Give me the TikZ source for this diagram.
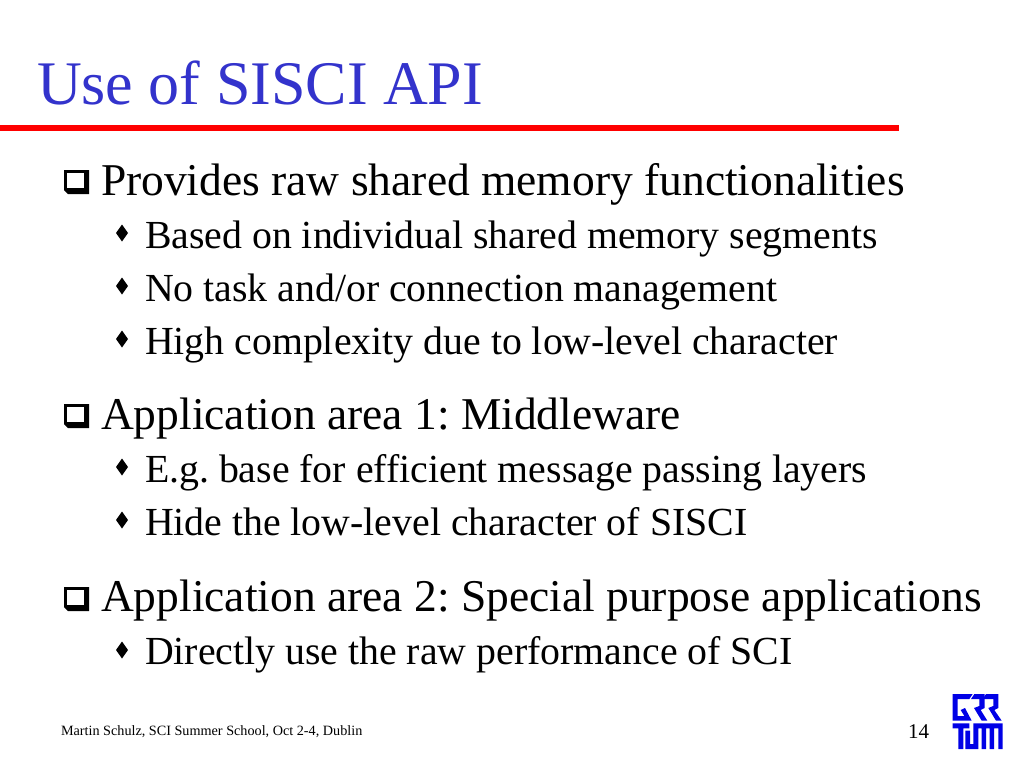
\documentclass[tikz,border=0pt]{standalone}
\usepackage{fontspec}
\setmainfont{Liberation Serif}
\definecolor{titleblue}{RGB}{51,51,204}
\definecolor{rulered}{RGB}{255,0,0}
\definecolor{logoblue}{RGB}{0,0,230}
\tikzset{
  x=1pt,y=-1pt,
  txt/.style={anchor=base west,inner sep=0pt,outer sep=0pt,text=black},
  titletxt/.style={txt,text=titleblue,font=\fontsize{62}{62}\selectfont\frenchspacing},
  mainitem/.style={txt,font=\fontsize{45.5}{45.5}\selectfont\frenchspacing},
  subitem/.style={txt,font=\fontsize{39.8}{39.8}\selectfont\frenchspacing},
  foot/.style={txt,font=\fontsize{14.2}{14.2}\selectfont\frenchspacing},
  pagenum/.style={txt,font=\fontsize{21}{21}\selectfont},
  logo/.style={fill=logoblue,draw=none}
}
\newcommand{\qbullet}[2]{%
  \begin{scope}[shift={(#1,#2)}]
    \fill[black] (0,0) -- (25,0) -- (25,24) -- (4,24) -- (0,20) -- cycle;
    \fill[white] (3,3) -- (20,3) -- (20,18) -- (3,18) -- cycle;
  \end{scope}
}
\newcommand{\dbullet}[2]{%
  \fill[black] (#1,#2-8.5) -- (#1+6,#2) -- (#1,#2+8.5) -- (#1-6,#2) -- cycle;
}
\begin{document}
\begin{tikzpicture}
\useasboundingbox (0,0) rectangle (1024,768);
\fill[white] (0,0) rectangle (1024,768);
\node[titletxt] (title) at (37,104) {Use of SISCI API};
\fill[rulered] (0,125) rectangle (899,131);

\qbullet{64}{170}
\node[mainitem] (m1) at (101,195) {Provides raw shared memory functionalities};
\dbullet{122}{233}
\node[subitem] (s1) at (145,248) {Based on individual shared memory segments};
\dbullet{122}{286}
\node[subitem] (s2) at (145,301) {No task and/or connection management};
\dbullet{122}{339}
\node[subitem] (s3) at (145,354) {High complexity due to low-level character};

\qbullet{64}{404}
\node[mainitem] (m2) at (101,429) {Application area 1: Middleware};
\dbullet{122}{467}
\node[subitem] (s4) at (145,482) {E.g. base for efficient message passing layers};
\dbullet{122}{520}
\node[subitem] (s5) at (145,535) {Hide the low-level character of SISCI};

\qbullet{64}{587}
\node[mainitem] (m3) at (101,611) {Application area 2: Special purpose applications};
\dbullet{122}{650}
\node[subitem] (s6) at (145,664) {Directly use the raw performance of SCI};

\node[foot] (f) at (61,735) {Martin Schulz, SCI Summer School, Oct 2-4, Dublin};
\node[pagenum] (p) at (908,738) {14};

\begin{scope}[shift={(930,680)},x=0.3333pt,y=-0.3333pt]
% G
\fill[logo] (68,42) -- (128,42) -- (118,57) -- (83,57) -- (83,108) -- (103,108) -- (92,90) -- (105,84) -- (125,122) -- (68,122) -- cycle;
% R
\fill[logo] (133,42) -- (164,42) -- (164,84) -- (152,90) -- (172,122) -- (155,122) -- (132,84) -- (148,78) -- (148,57) -- (123,57) -- cycle;
% R
\fill[logo] (168,42) -- (205,42) -- (205,84) -- (193,90) -- (215,122) -- (198,122) -- (175,84) -- (190,78) -- (190,57) -- (158,57) -- cycle;
% T
\fill[logo] (68,130) -- (118,130) -- (118,145) -- (100,145) -- (100,207) -- (85,207) -- (85,145) -- (68,145) -- cycle;
% U and M
\fill[logo] (106,152) -- (120,152) -- (120,192) -- (130,192) -- (130,130) -- (218,130) -- (218,207) -- (205,207) -- (205,145) -- (192,145) -- (192,207) -- (179,207) -- (179,145) -- (168,145) -- (168,207) -- (155,207) -- (155,145) -- (145,145) -- (145,207) -- (106,207) -- cycle;
\end{scope}
\end{tikzpicture}
\end{document}
